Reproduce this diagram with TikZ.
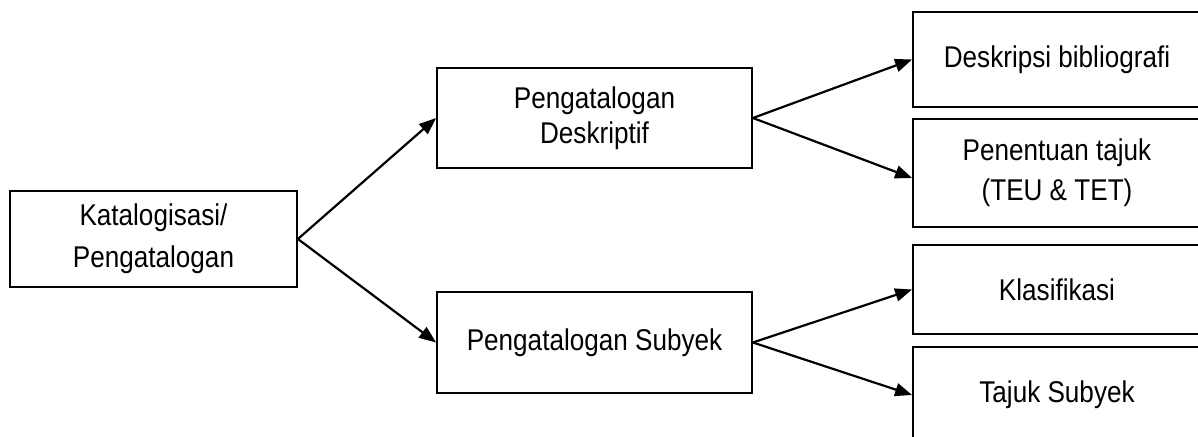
\documentclass[tikz,border=0pt]{standalone}
\usepackage{fontspec}
\setmainfont[FakeStretch = 0.87]{Liberation Sans}
\usepackage{tikz}
\usetikzlibrary{arrows.meta}

\begin{document}
\begin{tikzpicture}[x = 0.5pt, y = -0.5pt,
	box/.style = {draw, line width = 0.9pt, align = center, inner sep = 0pt, font = \fontsize{15}{17.5}\selectfont},
	leftbox/.style = {box, minimum width = 157.5pt},
	rightbox/.style = {box, minimum width = 144pt},
	link/.style = {line width = 1.1pt, -{Triangle[length = 8.5pt, width = 6.5pt]}}]
							\useasboundingbox (0,0) rectangle (1198,437);
							\clip (0,0) rectangle (1198,437);

							\node [box, minimum width = 143.5pt, minimum height = 48pt] (kat) at (153.5,239) {Katalogisasi/\\[3.5pt]Pengatalogan};

							\node [leftbox, minimum height = 50pt] (desk) at (594.5,118) {Pengatalogan\\Deskriptif};
							\node [leftbox, minimum height = 50.5pt] (subj) at (594.5,342.5) {Pengatalogan Subyek};

							\node [rightbox, minimum height = 47.5pt] (bib) at (1057,59.5) {Deskripsi bibliografi};
							\node [rightbox, minimum height = 54pt] (tajuk) at (1057,173) {Penentuan tajuk\\[2.5pt](TEU \& TET)};
							\node [rightbox, minimum height = 44.5pt] (klas) at (1057,289.5) {Klasifikasi};
							\node [rightbox, minimum height = 48pt] (tsub) at (1057,395) {Tajuk Subyek};

							\begin{scope}[link]
								\foreach \to in {desk, subj}
								{
									\draw (kat.east) -- (\to.west);
								}
								\draw (desk.east) -- (bib.west);
								\draw (desk.east) -- ([yshift = -2.5pt]tajuk.west);
								\draw (subj.east) -- (klas.west);
								\draw (subj.east) -- (tsub.west);
							\end{scope}
						\end{tikzpicture}
\end{document}
